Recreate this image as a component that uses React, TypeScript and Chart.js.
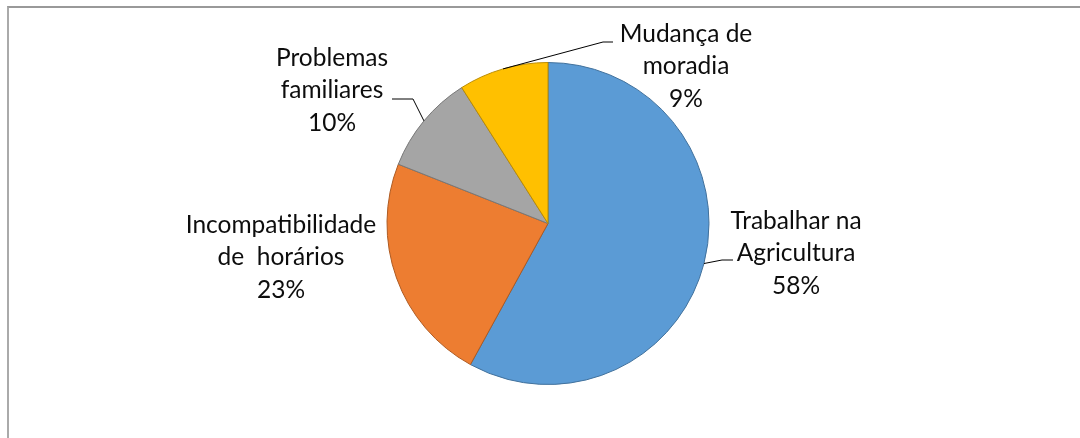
import React, { useEffect, useRef } from "react";
import { Chart, registerables } from "chart.js";

Chart.register(...registerables);

const categories = ["Trabalhar na Agricultura", "Incompatibilidade de horários", "Problemas familiares", "Mudança de moradia"];
const values = [58, 23, 10, 9];
const labelLines = [
  ["Trabalhar na", "Agricultura", "58%"],
  ["Incompatibilidade", "de  horários", "23%"],
  ["Problemas", "familiares", "10%"],
  ["Mudança de", "moradia", "9%"],
];
const colors = ["#5B9BD5", "#ED7D31", "#A5A5A5", "#FFC000"];
const borderColors = ["#41719C", "#AE5A21", "#787878", "#BC8C00"];

// label layout: text centre x, first line centre y, leader elbow / end points
const labelLayout = [
  { x: 796, y: 221, elbow: [722, 260], end: [733, 260], leader: true },
  { x: 281, y: 225, elbow: null, end: null, leader: false },
  { x: 332, y: 58, elbow: [413, 99], end: [392, 99], leader: true },
  { x: 686, y: 34, elbow: [603, 42], end: [613, 42], leader: true },
];

const FONT = "24.5px Lato, 'Open Sans', sans-serif";
const LINE_H = 32.5;

const labelPlugin = {
  id: "pieLabels",
  afterDatasetsDraw(chart: any) {
    const ctx = chart.ctx;
    const meta = chart.getDatasetMeta(0);
    ctx.save();
    meta.data.forEach((arc: any, i: number) => {
      const lay = labelLayout[i];
      const { x, y, startAngle, endAngle, outerRadius } = arc.getProps(["x", "y", "startAngle", "endAngle", "outerRadius"], true);
      if (lay.leader && lay.elbow && lay.end) {
        const mid = (startAngle + endAngle) / 2;
        const sx = x + Math.cos(mid) * outerRadius;
        const sy = y + Math.sin(mid) * outerRadius;
        ctx.beginPath();
        ctx.strokeStyle = "#000";
        ctx.lineWidth = 1;
        ctx.moveTo(sx, sy);
        ctx.lineTo(lay.elbow[0], lay.elbow[1]);
        ctx.lineTo(lay.end[0], lay.end[1]);
        ctx.stroke();
      }
      ctx.fillStyle = "#0d0d0d";
      ctx.font = FONT;
      ctx.textAlign = "center";
      ctx.textBaseline = "middle";
      labelLines[i].forEach((t, j) => {
        ctx.fillText(t, lay.x, lay.y + j * LINE_H);
      });
    });
    ctx.restore();
  },
};

export default function App() {
  const ref = useRef<HTMLCanvasElement | null>(null);
  useEffect(() => {
    if (!ref.current) return;
    const chart = new Chart(ref.current, {
      type: "pie",
      data: {
        labels: categories,
        datasets: [
          {
            data: values,
            backgroundColor: colors,
            borderColor: borderColors,
            borderWidth: 1,
          },
        ],
      },
      options: {
        animation: false,
        responsive: false,
        maintainAspectRatio: false,
        layout: { padding: { left: 16, right: 0, top: 62, bottom: 53 } },
        plugins: { legend: { display: false }, tooltip: { enabled: false } },
      },
      plugins: [labelPlugin],
    });
    return () => chart.destroy();
  }, []);
  return (
    <div style={{ position: "fixed", left: 0, top: 0, width: 1080, height: 438, overflow: "hidden", background: "#fff" }}>
      <div
        style={{
          position: "absolute",
          left: 7,
          top: 6,
          width: 1200,
          height: 600,
          borderTop: "2px solid #999",
          borderLeft: "2px solid #aaa",
        }}
      />
      <canvas ref={ref} width={1080} height={438} style={{ position: "absolute", left: 0, top: 0 }} />
    </div>
  );
}
